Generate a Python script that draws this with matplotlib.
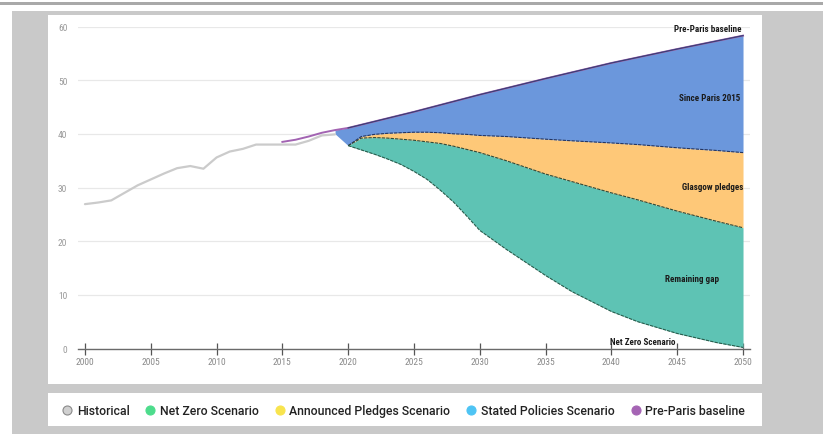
import matplotlib
matplotlib.use("Agg")
import matplotlib.pyplot as plt
from matplotlib.patches import Rectangle
from matplotlib.lines import Line2D
from matplotlib import font_manager as fm
import numpy as np

# ---------------- data ----------------
hist_years = [2000, 2001, 2002, 2003, 2004, 2005, 2006, 2007, 2008, 2009,
              2010, 2011, 2012, 2013, 2014, 2015, 2016, 2017, 2018, 2019]
hist_vals = [26.9, 27.2, 27.6, 29.0, 30.4, 31.5, 32.6, 33.6, 34.0, 33.5,
             35.6, 36.7, 37.2, 38.0, 38.0, 38.0, 38.0, 38.7, 39.7, 39.9]

base_years = [2015, 2016, 2017, 2018, 2019, 2020, 2025, 2030, 2035, 2040, 2045, 2050]
base_vals = [38.5, 38.9, 39.5, 40.2, 40.7, 41.1, 44.1, 47.3, 50.3, 53.2, 55.8, 58.3]

scen_years = [2019, 2020, 2021, 2022, 2023, 2024, 2025, 2026, 2027, 2028, 2029, 2030,
              2032, 2035, 2037, 2040, 2042, 2045, 2048, 2050]
stated_vals = [40.0, 37.8, 39.5, 39.9, 40.1, 40.2, 40.3, 40.3, 40.2, 40.0, 39.9, 39.7,
               39.5, 39.0, 38.7, 38.3, 38.0, 37.4, 36.9, 36.5]
pledges_vals = [40.0, 37.8, 39.2, 39.3, 39.2, 39.0, 38.8, 38.5, 38.2, 37.7, 37.1, 36.5,
                35.0, 32.5, 31.1, 29.0, 27.7, 25.6, 23.7, 22.5]
netzero_vals = [40.0, 37.8, 37.0, 36.2, 35.3, 34.3, 33.0, 31.5, 29.5, 27.3, 24.7, 22.0,
                18.5, 13.6, 10.6, 6.9, 5.0, 2.8, 1.1, 0.2]

x_ticks = [2000, 2005, 2010, 2015, 2020, 2025, 2030, 2035, 2040, 2045, 2050]
y_ticks = [0, 10, 20, 30, 40, 50, 60]

legend_labels = ["Historical", "Net Zero Scenario", "Announced Pledges Scenario",
                 "Stated Policies Scenario", "Pre-Paris baseline"]
legend_colors = ["#d0d0d0", "#4ddc8c", "#f8e44e", "#4ec4f4", "#a564b4"]
legend_edges = ["#8a8a8a", "#4ddc8c", "#f8e44e", "#4ec4f4", "#a564b4"]

area_labels = ["Pre-Paris baseline", "Since Paris 2015", "Glasgow pledges",
               "Remaining gap", "Net Zero Scenario"]

# ---------------- font choice ----------------
entries = fm.fontManager.ttflist
names = {f.name for f in entries}
cond_family = None
cond_stretch = "normal"
for cand in ["Roboto Condensed", "Liberation Sans Narrow", "Open Sans Condensed"]:
    if cand in names:
        cond_family = cand
        break
if cond_family is None:
    for f in entries:
        if f.name == "DejaVu Sans" and "ondensed" in f.fname:
            cond_family = "DejaVu Sans"
            cond_stretch = "condensed"
            break
if cond_family is None:
    cond_family = "Roboto" if "Roboto" in names else "DejaVu Sans"

def cprops(size, weight="normal"):
    return fm.FontProperties(family=cond_family, stretch=cond_stretch, size=size, weight=weight)

# ---------------- figure ----------------
W, H = 823, 435
fig = plt.figure(figsize=(W / 100, H / 100), dpi=100)
fig.patch.set_facecolor("white")

def px_rect(x0, y0, x1, y1, color, z=0):
    fig.add_artist(Rectangle((x0 / W, 1 - y1 / H), (x1 - x0) / W, (y1 - y0) / H,
                             transform=fig.transFigure, facecolor=color,
                             edgecolor="none", zorder=z))

px_rect(0, 3, W, 5.5, "#a9a9a9", z=-10)
px_rect(12, 12, W, H, "#c9c9c9", z=-10)
px_rect(48, 16, 762, 385, "white", z=-9)
px_rect(48, 394, 762, 427, "white", z=-9)

ax_left, ax_right = 78.4, 749.6
ax_top, ax_bot = 27.5, 349.5
ax = fig.add_axes([ax_left / W, 1 - ax_bot / H, (ax_right - ax_left) / W, (ax_bot - ax_top) / H])
ax.set_facecolor("none")

blue = "#6b97dc"
orange = "#fec878"
teal = "#5ec3b4"
edge = "#26355e"

sy = np.array(scen_years)
ax.fill_between(sy, np.interp(sy, base_years, base_vals), stated_vals, color=blue, lw=0, zorder=2)
ax.fill_between(sy, stated_vals, pledges_vals, color=orange, lw=0, zorder=3)
ax.fill_between(sy, pledges_vals, netzero_vals, color=teal, lw=0, zorder=4)

ax.plot(sy[1:], stated_vals[1:], color=edge, lw=0.8, ls=(0, (3, 1)), zorder=6)
ax.plot(sy[1:], pledges_vals[1:], color="#2c4a3a", lw=0.8, ls=(0, (3, 1)), zorder=6)
ax.plot(sy[1:], netzero_vals[1:], color="#2a5c4c", lw=0.8, ls=(0, (3, 1)), zorder=6)

ax.plot(hist_years, hist_vals, color="#cbcbcb", lw=1.6, zorder=5, solid_capstyle="round")
ax.plot(base_years, base_vals, color="#a263b2", lw=1.4, zorder=7)
ax.plot(base_years[5:], base_vals[5:], color="#3a3f75", lw=0.9, zorder=8)

ax.set_xlim(1999.5, 2050.5)
ax.set_ylim(0, 60)
ax.set_xticks(x_ticks)
ax.set_yticks(y_ticks)
ax.set_xticklabels([str(t) for t in x_ticks], fontproperties=cprops(6.8), color="#8a8a8a")
ax.set_yticklabels([str(t) for t in y_ticks], fontproperties=cprops(6.8), color="#9a9a9a")
ax.tick_params(axis="y", length=0, pad=8)
ax.tick_params(axis="x", direction="inout", length=8, width=0.9, color="#555555", pad=2)
for s in ["top", "right", "left"]:
    ax.spines[s].set_visible(False)
ax.spines["bottom"].set_color("#6a6a6a")
ax.spines["bottom"].set_linewidth(1.0)
ax.spines["bottom"].set_zorder(10)
ax.grid(axis="y", color="#e8e8e8", lw=0.9, zorder=0)
ax.set_axisbelow(True)

lp = cprops(6.5, "bold")
lab_kw = dict(fontproperties=lp, color="#1a1a1a", zorder=12)
ax.text(2049.9, 58.8, area_labels[0], ha="right", va="bottom", **lab_kw)
ax.text(2049.8, 46.7, area_labels[1], ha="right", va="center", **lab_kw)
ax.text(2050.0, 30.1, area_labels[2], ha="right", va="center", **lab_kw)
ax.text(2046.1, 13.0, area_labels[3], ha="center", va="center", **lab_kw)
ax.text(2042.4, 1.3, area_labels[4], ha="center", va="center", **lab_kw)

handles = [Line2D([0], [0], marker="o", ls="none", markersize=6.5,
                  markerfacecolor=c, markeredgecolor=e, markeredgewidth=0.8)
           for c, e in zip(legend_colors, legend_edges)]
leg = fig.legend(handles, legend_labels, loc="center", bbox_to_anchor=(403 / W, 1 - 412 / H),
                 ncol=5, frameon=False, handletextpad=0.3, columnspacing=1.2,
                 handlelength=1.0, prop=dict(family=["Roboto", "DejaVu Sans"], weight="medium", size=8.8))
for t in leg.get_texts():
    t.set_color("#222222")

fig.savefig("out.png", dpi=100)
